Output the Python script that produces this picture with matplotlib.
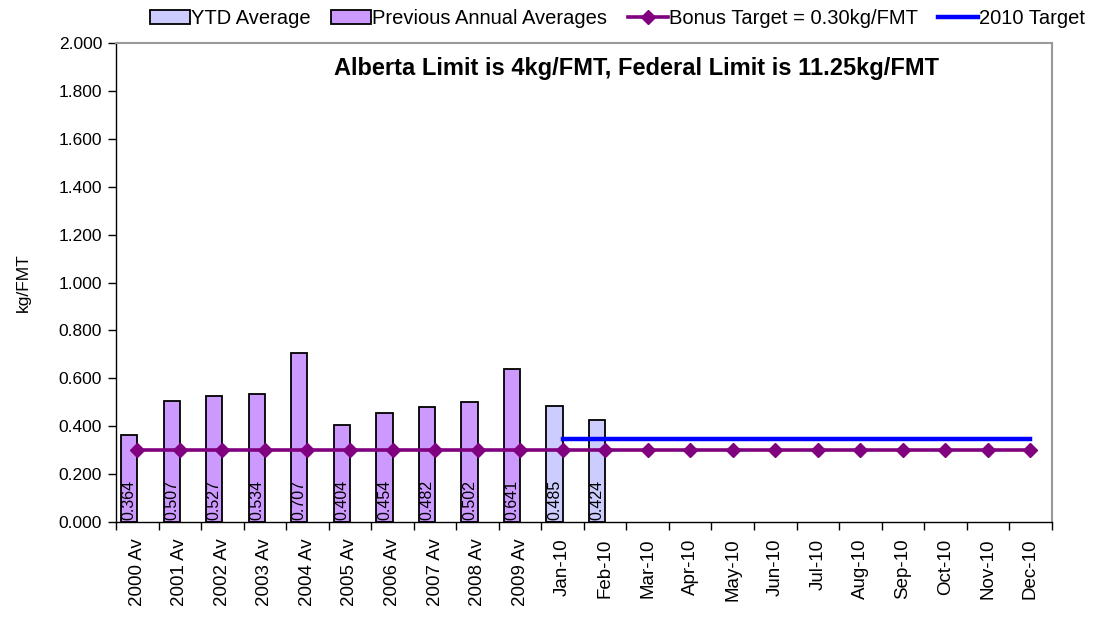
import numpy as np
import matplotlib.pyplot as plt
from matplotlib.lines import Line2D
from matplotlib.patches import Patch

plt.rcParams['font.family'] = ['Liberation Sans', 'DejaVu Sans']

#
# Data
categories = ['2000 Av', '2001 Av', '2002 Av', '2003 Av', '2004 Av', '2005 Av',
              '2006 Av', '2007 Av', '2008 Av', '2009 Av', 'Jan-10', 'Feb-10',
              'Mar-10', 'Apr-10', 'May-10', 'Jun-10', 'Jul-10', 'Aug-10',
              'Sep-10', 'Oct-10', 'Nov-10', 'Dec-10']
prev_avg = [0.364, 0.507, 0.527, 0.534, 0.707, 0.404, 0.454, 0.482, 0.502, 0.641]
ytd_avg = [0.485, 0.424]
bonus_target = [0.30] * 22
target_2010 = [0.345] * 12
#
# Figure
fig = plt.figure(figsize=(10.99, 6.17), dpi=100)
ax = fig.add_axes([0.1056, 0.154, 0.8514, 0.776])

x = np.arange(len(categories))
w = 0.38
x_prev = x[:len(prev_avg)]
x_ytd = x[len(prev_avg):len(prev_avg) + len(ytd_avg)]

ax.bar(x_prev - w, prev_avg, width=w, align='edge', color='#CC99FF',
       edgecolor='black', linewidth=1.3, zorder=2)
ax.bar(x_ytd - w, ytd_avg, width=w, align='edge', color='#CCCCFF',
       edgecolor='black', linewidth=1.3, zorder=2)

for xi, v in zip(list(x_prev) + list(x_ytd), prev_avg + ytd_avg):
    ax.text(xi - w / 2, 0.008, '%.3f' % v, rotation=90, ha='center',
            va='bottom', fontsize=11.5, zorder=5)

ax.plot(x, bonus_target, color='#800080', linewidth=2.6, marker='D',
        markersize=7, zorder=3)
ax.plot(x[10:], target_2010, color='#0000FF', linewidth=3.2, zorder=3)
#
# Axes
ax.set_xlim(-0.5, len(categories) - 0.5)
ax.set_ylim(0, 2.0)
ax.set_yticks(np.arange(0, 2.01, 0.2))
ax.set_yticklabels(['%.3f' % t for t in np.arange(0, 2.01, 0.2)], fontsize=12.5)
ax.set_xticks(x)
ax.set_xticklabels(categories, rotation=90, fontsize=13.5)
ax.tick_params(axis='x', length=0, pad=12)
ax.set_xticks(np.arange(-0.5, len(categories)), minor=True)
ax.tick_params(axis='x', which='minor', length=6, width=1, color='black')
ax.tick_params(axis='y', length=6, width=1, pad=4)
ax.set_ylabel('kg/FMT', fontsize=12.5, labelpad=20)

for s in ['top', 'right']:
    ax.spines[s].set_color('#999999')
    ax.spines[s].set_linewidth(1.5)
for s in ['left', 'bottom']:
    ax.spines[s].set_color('black')
    ax.spines[s].set_linewidth(1.0)

ax.text(0.556, 0.972, 'Alberta Limit is 4kg/FMT, Federal Limit is 11.25kg/FMT',
        transform=ax.transAxes, ha='center', va='top', fontsize=17,
        fontweight='bold')
#
# Legend
handles = [Patch(facecolor='#CCCCFF', edgecolor='black', linewidth=1.3),
           Patch(facecolor='#CC99FF', edgecolor='black', linewidth=1.3),
           Line2D([], [], color='#800080', linewidth=2.6, marker='D', markersize=7),
           Line2D([], [], color='#0000FF', linewidth=3.2)]
labels = ['YTD Average', 'Previous Annual Averages',
          'Bonus Target = 0.30kg/FMT', '2010 Target']
fig.legend(handles, labels, loc='upper right', bbox_to_anchor=(1.004, 1.014),
           ncol=4, frameon=False, fontsize=14.5, handlelength=2.0,
           handletextpad=0.05, columnspacing=1.0)

fig.savefig('out.png', dpi=100)
